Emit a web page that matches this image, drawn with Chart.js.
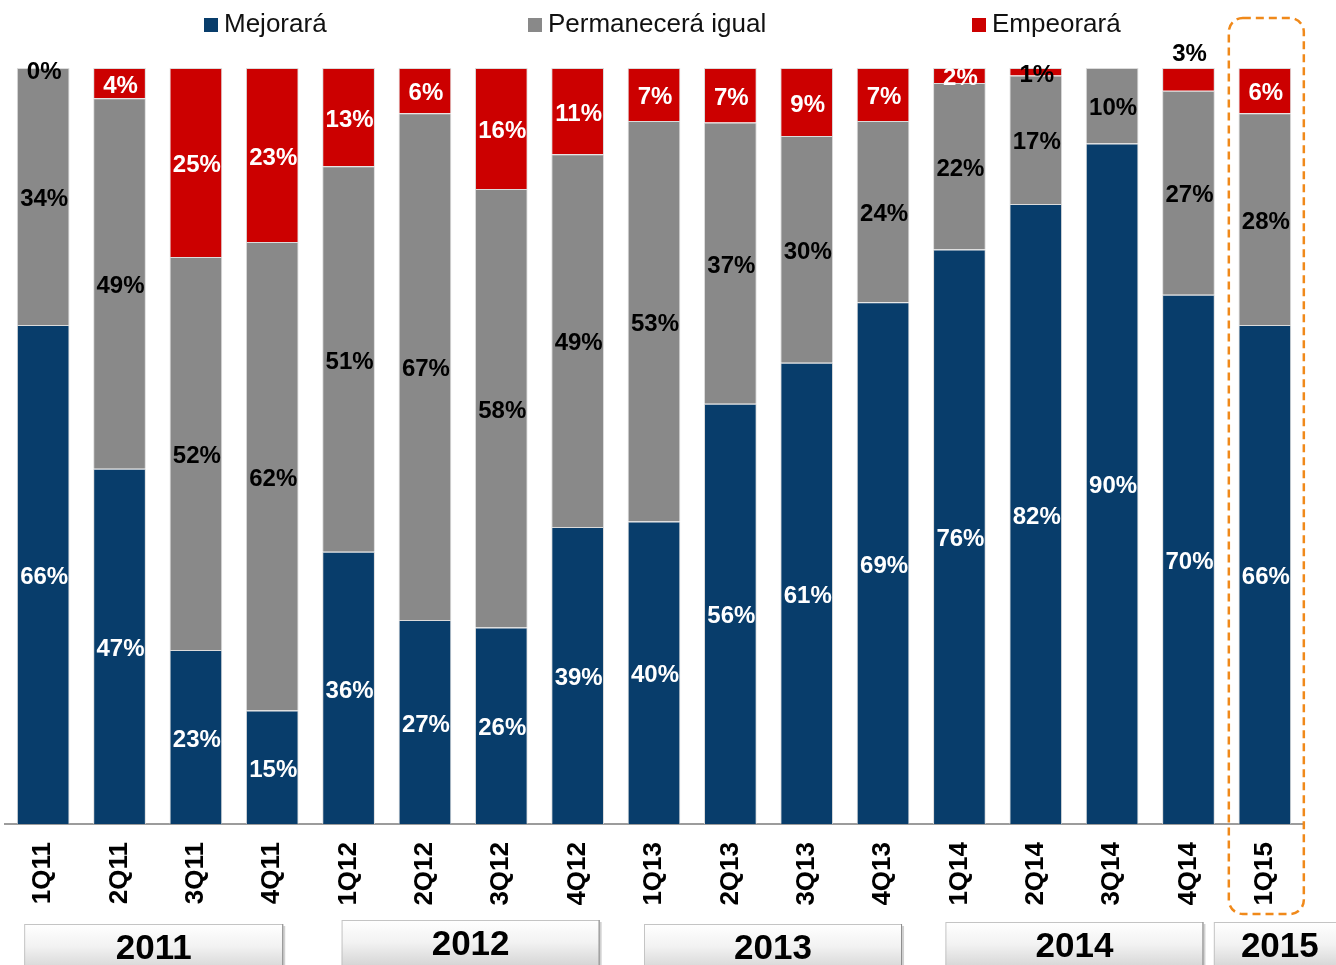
<!DOCTYPE html>
<html>
<head>
<meta charset="utf-8">
<script src="https://cdn.jsdelivr.net/npm/chart.js@4.4.1/dist/chart.umd.min.js"></script>
<style>
    body { margin: 0; background: #fff; }
    #wrap { width: 1336px; height: 965px; position: relative; }
</style>
</head>
<body>
<div id="wrap"><canvas id="myChart"></canvas></div>
<script>
const quarters = ['1Q11', '2Q11', '3Q11', '4Q11', '1Q12', '2Q12', '3Q12', '4Q12',
    '1Q13', '2Q13', '3Q13', '4Q13', '1Q14', '2Q14', '3Q14', '4Q14', '1Q15'];
const mejorara = [66, 47, 23, 15, 36, 27, 26, 39.3, 40, 55.6, 61, 69, 76, 82, 90, 70, 66];
const permanecera = [34, 49, 52, 62, 51, 67, 58, 49.3, 53, 37.2, 30, 24, 22, 17, 10, 27, 28];
const empeorara = [0, 4, 25, 23, 13, 6, 16, 11.4, 7, 7.2, 9, 7, 2, 1, null, 3, 6];
const years = ['2011', '2012', '2013', '2014', '2015'];
const yearFrom = [0, 4, 8, 12, 16];
const yearTo = [3, 7, 11, 15, 16];

// layout of the decorations
const legendX = [204, 528, 972];
const yearBoxLeft = [-19, -7, -10, -14, -51];
const yearBoxRight = [11, 22, 19, 15, 80];
const yearBoxTop = [924, 920, 924, 922, 922];
const FONT = '"Liberation Sans", Arial, sans-serif';

const data = {
    labels: quarters,
    datasets: [{
        label: 'Mejorará',
        data: mejorara,
        backgroundColor: '#083d6b'
    }, {
        label: 'Permanecerá igual',
        data: permanecera,
        backgroundColor: '#898989'
    }, {
        label: 'Empeorará',
        data: empeorara,
        backgroundColor: '#cc0000'
    }]
};

const labelsPlugin = {
    id: 'segLabels',
    afterDatasetsDraw(chart) {
        const ctx = chart.ctx;
        ctx.save();
        ctx.font = 'bold 24px ' + FONT;
        ctx.textAlign = 'center';
        ctx.textBaseline = 'middle';
        chart.data.datasets.forEach((ds, i) => {
            const meta = chart.getDatasetMeta(i);
            meta.data.forEach((bar, j) => {
                const v = ds.data[j];
                if (v == null) return;
                const p = bar.getProps(['x', 'y', 'base'], true);
                let cy = (p.y + p.base) / 2;
                let color = i === 1 ? '#000' : '#fff';
                if (i === 2) {
                    if (j === 15) { cy = p.y - 17; color = '#000'; }
                    else if (v === 0) { cy = p.y + 1; color = '#000'; }
                    else if (v === 1) { cy = p.y + 4; color = '#000'; }
                }
                ctx.fillStyle = color;
                ctx.fillText(Math.round(v) + '%', p.x + 1, cy + 3);
            });
        });
        ctx.restore();
    }
};

const decorPlugin = {
    id: 'decor',
    afterDraw(chart) {
        const ctx = chart.ctx;
        const xs = chart.scales.x;
        ctx.save();
        // legend
        ctx.font = '26px ' + FONT;
        ctx.textBaseline = 'middle';
        ctx.textAlign = 'left';
        chart.data.datasets.forEach((ds, i) => {
            ctx.fillStyle = ds.backgroundColor;
            ctx.fillRect(legendX[i], 18, 14, 14);
            ctx.fillStyle = '#111';
            ctx.fillText(ds.label, legendX[i] + 20, 25);
        });
        // year boxes
        years.forEach((y, k) => {
            const l = xs.getPixelForValue(yearFrom[k]) + yearBoxLeft[k];
            const r = Math.min(xs.getPixelForValue(yearTo[k]) + yearBoxRight[k], chart.width + 10);
            const t = yearBoxTop[k];
            const h = 60;
            const g = ctx.createLinearGradient(0, t, 0, t + 45);
            g.addColorStop(0, '#ffffff');
            g.addColorStop(0.5, '#f2f2f2');
            g.addColorStop(1, '#d6d6d6');
            ctx.fillStyle = 'rgba(0,0,0,0.18)';
            ctx.fillRect(l + 2, t + 2, r - l, h);
            ctx.fillStyle = g;
            ctx.fillRect(l, t, r - l, h);
            ctx.strokeStyle = '#c4c4c4';
            ctx.lineWidth = 1;
            ctx.strokeRect(l + 0.5, t + 0.5, r - l - 1, h);
            ctx.strokeStyle = '#8c8c8c';
            ctx.beginPath();
            ctx.moveTo(r - 0.5, t);
            ctx.lineTo(r - 0.5, t + h);
            ctx.stroke();
            ctx.fillStyle = '#000';
            ctx.font = 'bold 35px ' + FONT;
            ctx.textAlign = 'center';
            const cx = k === 4 ? l + 66 : (l + r) / 2;
            ctx.fillText(y, cx, t + 25);
        });
        // highlight around the last quarter
        const last = quarters.length - 1;
        const cx = xs.getPixelForValue(last);
        ctx.strokeStyle = '#f0891a';
        ctx.lineWidth = 2.5;
        ctx.setLineDash([8, 5]);
        ctx.beginPath();
        ctx.roundRect(cx - 36, 18, 75, 896, 14);
        ctx.stroke();
        ctx.restore();
    }
};

const config = {
    type: 'bar',
    data: data,
    options: {
        responsive: true,
        maintainAspectRatio: false,
        animation: false,
        layout: { padding: { top: 68, left: 5, right: 33, bottom: 0 } },
        datasets: {
            bar: {
                barPercentage: 0.69,
                categoryPercentage: 1,
                borderWidth: 1,
                borderColor: 'rgba(215,215,215,0.9)'
            }
        },
        plugins: {
            legend: { display: false },
            tooltip: { enabled: false }
        },
        scales: {
            x: {
                stacked: true,
                grid: { display: false, drawTicks: false },
                border: { display: true, color: '#9c9c9c', width: 2 },
                ticks: {
                    color: '#000',
                    font: { family: FONT, size: 26, weight: 'bold' },
                    minRotation: 90,
                    maxRotation: 90,
                    padding: 18
                },
                afterFit(scale) { scale.height = 141; }
            },
            y: {
                stacked: true,
                display: false,
                min: 0,
                max: 100
            }
        }
    },
    plugins: [labelsPlugin, decorPlugin]
};

const myChart = new Chart(
    document.getElementById('myChart'),
    config
);
</script>
</body>
</html>
